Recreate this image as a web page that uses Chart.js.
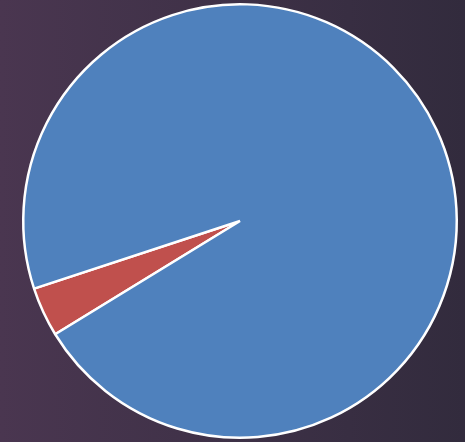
<!DOCTYPE html>
<html lang="en">
<head>
    <meta charset="UTF-8">
    <title>Pie</title>
    <script src="https://cdn.jsdelivr.net/npm/chart.js"></script>
    <style>
        html, body { margin: 0; padding: 0; }
        body {
            width: 465px; height: 442px; overflow: hidden;
            background: linear-gradient(to right, #4a3650 0%, #3e3147 50%, #322b3d 100%);
        }
        #wrap { position: relative; width: 465px; height: 442px; }
    </style>
</head>
<body>
<div id="wrap"><canvas id="pieChart"></canvas></div>
<script>
const categories = ['Minor', 'Major'];
const values = [3.7, 96.3];
const colors = ['#c0504d', '#4f81bd'];

new Chart(document.getElementById('pieChart'), {
    type: 'pie',
    data: {
        labels: categories,
        datasets: [{
            data: values,
            backgroundColor: colors,
            borderColor: '#ffffff',
            borderWidth: 2.5
        }]
    },
    options: {
        responsive: true,
        maintainAspectRatio: false,
        animation: false,
        rotation: 238.5,
        layout: { padding: { left: 16, right: 1, top: 3, bottom: 3 } },
        plugins: {
            legend: { display: false },
            tooltip: { enabled: false }
        }
    }
});
</script>
</body>
</html>
